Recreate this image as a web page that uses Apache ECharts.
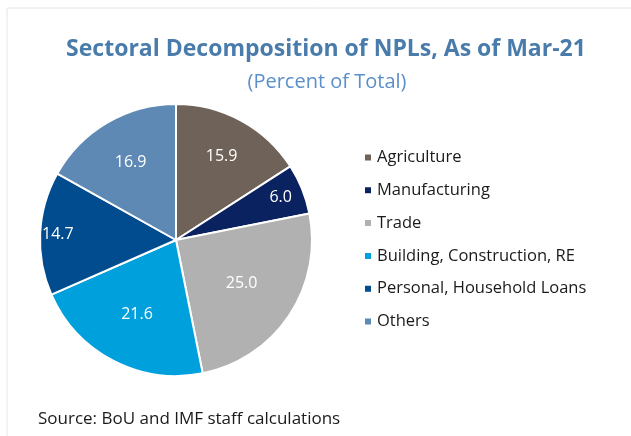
<!DOCTYPE html>
<html>
<head>
<meta charset="utf-8">
<script src="https://cdn.jsdelivr.net/npm/echarts@6/dist/echarts.min.js"></script>
<style>
  html, body { margin: 0; padding: 0; background: #fff; }
  #chart { width: 631px; height: 436px; }
</style>
</head>
<body>
<div id="chart"></div>
<script>
const sectors = ['Agriculture', 'Manufacturing', 'Trade', 'Building, Construction, RE', 'Personal, Household Loans', 'Others'];
const shares = [15.9, 6.0, 25.0, 21.6, 14.7, 16.9];
const sliceColors = ['#6e6259', '#0b2260', '#b1b1b1', '#00a0dd', '#004c8f', '#5d89b4'];
// how far out (as a share of the radius) each value label sits
const labelDistance = [0.7, 0.83, 0.58, 0.62, 0.87, 0.66];

const center = [176, 240];
const radius = 136;

const chart = echarts.init(document.getElementById('chart'));

const option = {
  animation: false,
  title: [
    {
      text: 'Sectoral Decomposition of NPLs, As of Mar-21',
      left: 321,
      top: 33,
      textAlign: 'center',
      textStyle: { fontFamily: 'Open Sans', fontSize: 23, fontWeight: 'bold', color: '#497cab' }
    },
    {
      text: '(Percent of Total)',
      left: 322,
      top: 67,
      textAlign: 'center',
      textStyle: { fontFamily: 'Open Sans', fontSize: 20, fontWeight: 'normal', color: '#5b8fc9' }
    },
    {
      text: 'Source: BoU and IMF staff calculations',
      left: 33,
      top: 406,
      textStyle: { fontFamily: 'Open Sans', fontSize: 17, fontWeight: 'normal', color: '#1a1a1a' }
    }
  ],
  legend: {
    orient: 'vertical',
    left: 358,
    top: 144,
    itemWidth: 8,
    itemHeight: 8,
    itemGap: 15.8,
    icon: 'rect',
    data: sectors,
    textStyle: { fontFamily: 'Open Sans', fontSize: 16.5, lineHeight: 16, color: '#1a1a1a' }
  },
  graphic: [
    {
      type: 'rect',
      shape: { x: 7, y: 8, width: 700, height: 500 },
      style: { fill: 'none', stroke: '#e6e6e6', lineWidth: 1 },
      silent: true
    }
  ],
  series: [
    {
      type: 'pie',
      center: center,
      radius: radius,
      startAngle: 90,
      clockwise: true,
      itemStyle: { borderColor: '#fff', borderWidth: 2 },
      label: {
        show: true,
        position: 'inside',
        formatter: p => p.value.toFixed(1),
        color: '#fff',
        fontFamily: 'Open Sans',
        fontSize: 16
      },
      labelLine: { show: false },
      labelLayout: function (params) {
        const r = params.labelRect;
        const cx = r.x + r.width / 2;
        const cy = r.y + r.height / 2;
        const dx = cx - center[0];
        const dy = cy - center[1];
        const d = Math.sqrt(dx * dx + dy * dy) || 1;
        const k = labelDistance[params.dataIndex] * radius / d;
        return {
          x: center[0] + dx * k,
          y: center[1] + dy * k,
          align: 'center',
          verticalAlign: 'middle'
        };
      },
      data: sectors.map((name, i) => ({
        name: name,
        value: shares[i],
        itemStyle: { color: sliceColors[i] }
      }))
    }
  ]
};

chart.setOption(option);
</script>
</body>
</html>
